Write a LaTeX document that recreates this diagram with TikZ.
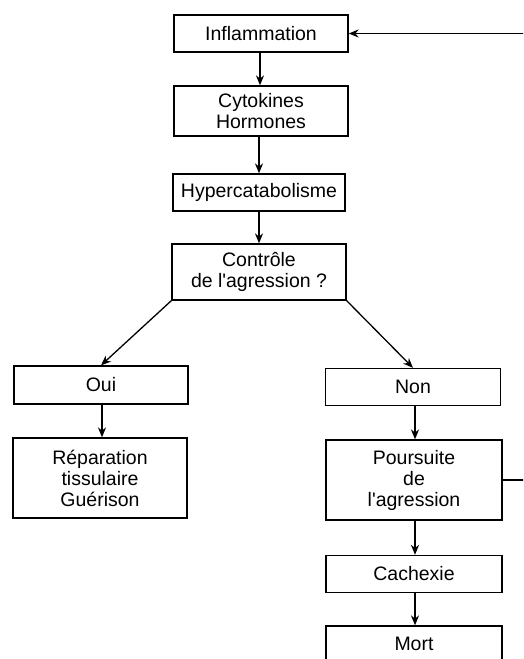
\documentclass[tikz,border=0pt]{standalone}
\usepackage{fontspec}
\setmainfont{Liberation Sans}
\usetikzlibrary{arrows.meta}
\begin{document}
\begin{tikzpicture}[x=1pt,y=-1pt,
  box/.style={draw,line width=1.3pt,inner sep=0pt,align=center,
    font=\fontsize{19.5}{21}\selectfont},
  arr/.style={line width=1.3pt,-{Stealth[length=10pt,width=8pt]}}]
\useasboundingbox (0,0) rectangle (523,659);
\clip (0,0) rectangle (523,659);
\node[box,minimum width=174pt,minimum height=37pt] (infl) at (261,33.5) {Inflammation};
\node[box,minimum width=174pt,minimum height=50pt] (cyto) at (261,111) {Cytokines\\Hormones};
\node[box,minimum width=172pt,minimum height=37pt] (hyper) at (259,192.5) {Hypercatabolisme};
\node[box,minimum width=174pt,minimum height=56pt] (ctrl) at (259,272) {Contrôle\\de l\textquotesingle agression ?};
\node[box,minimum width=174pt,minimum height=38pt] (oui) at (101,385) {Oui};
\node[box,minimum width=175pt,minimum height=37pt] (non) at (413,387) {Non};
\node[box,minimum width=174pt,minimum height=80pt] (rep) at (100,478) {Réparation\\tissulaire\\Guérison};
\node[box,minimum width=176pt,minimum height=80pt] (pours) at (414,480) {Poursuite\\de\\l\textquotesingle agression};
\node[box,minimum width=176pt,minimum height=37pt] (cach) at (414,574) {Cachexie};
\node[box,minimum width=176pt,minimum height=36pt] (mort) at (414,644) {Mort};
\coordinate (c1) at (535,480);
\coordinate (c2) at (535,33.5);
\draw[arr] (infl.south -| 260,0) -- (cyto.north -| 260,0);
\draw[arr] (cyto.south -| 259,0) -- (hyper.north -| 259,0);
\draw[arr] (hyper.south) -- (ctrl.north);
\draw[arr] (ctrl.south west) -- (oui.north);
\draw[arr] (ctrl.south east) -- (non.north);
\draw[arr] (oui.south -| 102,0) -- (rep.north -| 102,0);
\draw[arr] (non.south -| 415,0) -- (pours.north -| 415,0);
\draw[arr] (pours.south -| 415,0) -- (cach.north -| 415,0);
\draw[arr] (cach.south -| 415,0) -- (mort.north -| 415,0);
\draw[arr] (pours.east) -- (c1) -- (c2) -- (infl.east);
\end{tikzpicture}
\end{document}
